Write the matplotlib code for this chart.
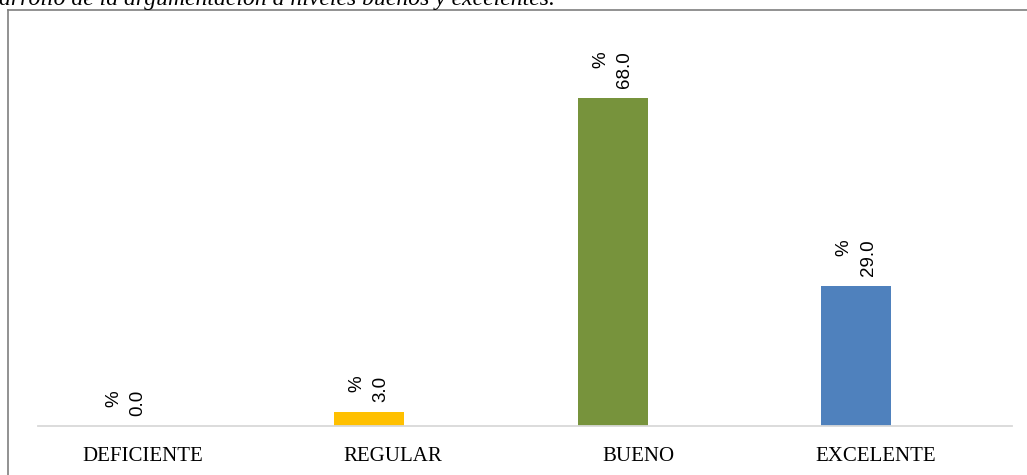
import matplotlib.pyplot as plt
from matplotlib.lines import Line2D
import numpy as np

categories = ['DEFICIENTE', 'REGULAR', 'BUENO', 'EXCELENTE']
percentages = [0.0, 3.0, 68.0, 29.0]
bar_colors = ['#C0504D', '#FFC000', '#77933C', '#4F81BD']
caption = 'arrollo de la argumentación a niveles buenos y excelentes.'


def main():
    W, H = 1027, 475
    fig = plt.figure(figsize=(W / 100, H / 100), dpi=100)

    # caption cut off at the top of the picture
    fig.text(-1 / W, 1 - 5 / H, caption, ha='left', va='baseline',
             fontsize=17, style='italic', family='Liberation Serif')

    # outer chart frame (only top and left visible)
    fig.add_artist(Line2D([8 / W, 8 / W], [0, 1 - 10 / H], transform=fig.transFigure,
                          color='#7f7f7f', lw=1.2))
    fig.add_artist(Line2D([8 / W, 1], [1 - 10 / H, 1 - 10 / H], transform=fig.transFigure,
                          color='#7f7f7f', lw=1.2))

    ax = fig.add_axes([38 / W, 1 - 426 / H, 974 / W, 386 / H])
    x = np.arange(len(categories))
    bar_x = x - 0.14
    ax.bar(bar_x, percentages, width=0.2875, color=bar_colors)

    for bx, v in zip(bar_x, percentages):
        ax.annotate(f'%\n{v:.1f}', xy=(bx, v), xytext=(0, 7), textcoords='offset points',
                    rotation=90, ha='center', va='bottom', multialignment='right',
                    fontsize=13.5, family='Liberation Sans', linespacing=1.55)

    ax.set_xlim(-0.5, 3.5)
    ax.set_ylim(0, 80)
    # category labels sit slightly unevenly, as in the original
    label_shift = np.array([-0.069, -0.045, -0.036, -0.060])
    ax.set_xticks(x + label_shift)
    ax.set_xticklabels(categories, family='Liberation Serif', fontsize=15)
    ax.tick_params(axis='x', length=0, pad=15)
    ax.set_yticks([])
    for side in ['top', 'right', 'left']:
        ax.spines[side].set_visible(False)
    ax.spines['bottom'].set_color('#d9d9d9')
    ax.spines['bottom'].set_linewidth(1.3)

    fig.savefig('out.png', dpi=100)


if __name__ == '__main__':
    main()
